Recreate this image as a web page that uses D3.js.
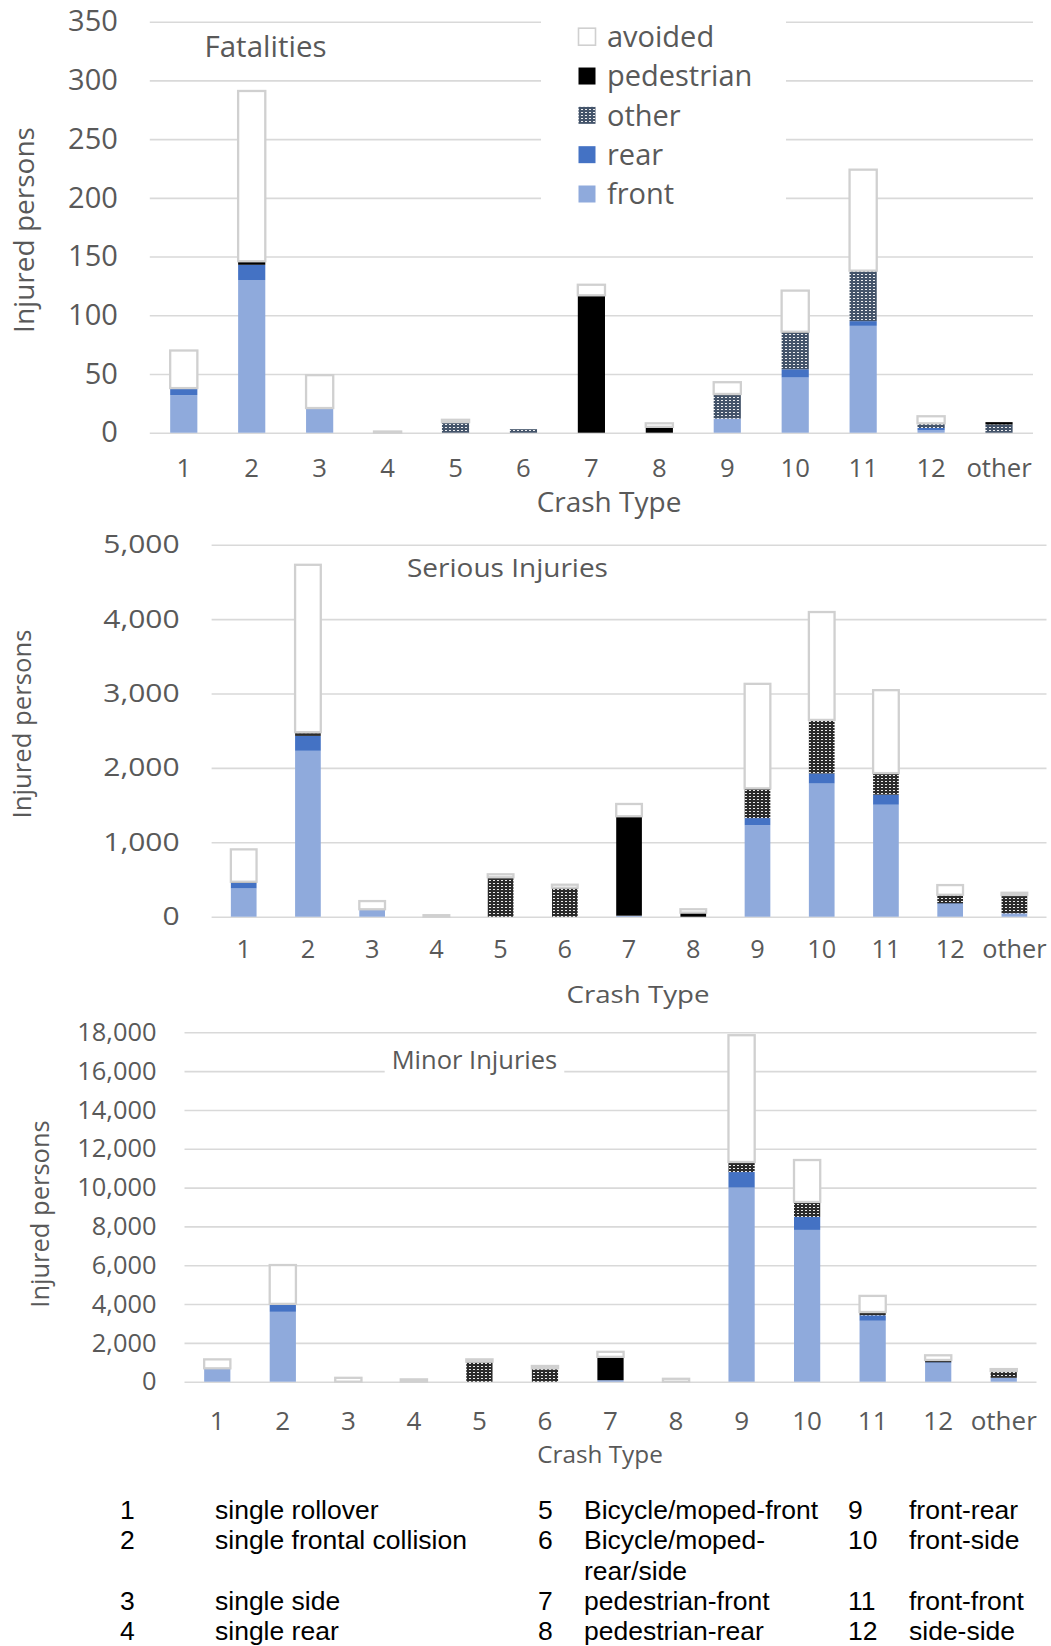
<!DOCTYPE html>
<html><head><meta charset="utf-8">
<script src="https://cdn.jsdelivr.net/npm/d3@7"></script>
<style>
body{margin:0;background:#fff;}
svg{display:block;}
</style></head><body>
<svg id="chart" width="1051" height="1646"></svg>
<script>
// ---------- DATA ----------
const categories = ["1","2","3","4","5","6","7","8","9","10","11","12","other"];
const seriesKeys = ["front","rear","other","pedestrian","avoided"];

const fatalFront      = [32,130,21,0,0,0,0,0,12,47,91,2,0];
const fatalRear       = [6,13,0,0,0,0,0,0,0,7,4,2,0];
const fatalOther      = [0,0,0,0,9,3,0,0,20,31,43,4,7];
const fatalPedestrian = [0,3,0,0,0,0,117,5,1,1,0,0,2];
const fatalAvoided    = [32,145,28,1,2,0,9,3,10,35,86,6,0];

const seriousFront      = [380,2230,100,0,0,0,10,0,1230,1790,1505,170,45];
const seriousRear       = [75,200,0,0,0,0,0,0,95,135,135,10,0];
const seriousOther      = [15,30,0,0,530,390,10,0,400,720,290,115,235];
const seriousPedestrian = [0,20,0,0,0,0,1330,55,0,0,0,0,12];
const seriousAvoided    = [435,2250,110,20,40,40,165,45,1405,1450,1115,130,30];

const minorFront      = [630,3600,0,0,0,0,80,0,10000,7820,3140,950,200];
const minorRear       = [60,380,0,0,0,0,0,0,800,670,280,50,0];
const minorOther      = [0,30,0,0,1030,690,0,0,520,770,170,120,350];
const minorPedestrian = [0,0,0,0,0,0,1200,0,0,0,0,0,0];
const minorAvoided    = [460,2000,200,120,120,120,260,150,6530,2160,830,240,100];

const fatalTicks   = [0,50,100,150,200,250,300,350];
const seriousTicks = [0,1000,2000,3000,4000,5000];
const minorTicks   = [0,2000,4000,6000,8000,10000,12000,14000,16000,18000];

const legendLabels = ["avoided","pedestrian","other","rear","front"];
const crashTypeNumbers = ["1","2","3","4","5","6","7","8","9","10","11","12"];
const crashTypeNames = ["single rollover","single frontal collision","single side","single rear",
  "Bicycle/moped-front","Bicycle/moped-|rear/side","pedestrian-front","pedestrian-rear",
  "front-rear","front-side","front-front","side-side"];

// ---------- STYLE ----------
const FONT = "'Open Sans','Segoe UI',sans-serif";
const TXT = "#595959";
const GRID = "#d9d9d9";
const colors = {front:"#8faadc", rear:"#4472c4", pedestrian:"#000000", avoided:"#ffffff"};

const svg = d3.select("#chart");
const defs = svg.append("defs");
function makePattern(id, base){
  const p = defs.append("pattern").attr("id",id).attr("patternUnits","userSpaceOnUse")
    .attr("width",4).attr("height",3);
  p.append("rect").attr("width",4).attr("height",3).attr("fill",base);
  p.append("rect").attr("x",1).attr("y",1).attr("width",2).attr("height",1).attr("fill","#ffffff").attr("opacity",0.9);
}
makePattern("patNavy","#44546a");
makePattern("patDark","#2b2b2b");

function rowsOf(f,r,o,p,a){
  return categories.map((c,i)=>({cat:c,front:f[i],rear:r[i],other:o[i],pedestrian:p[i],avoided:a[i]}));
}

function drawPanel(cfg){
  const g = svg.append("g");
  const x = d3.scaleBand().domain(categories).range([cfg.left,cfg.right]).paddingInner(0.6).paddingOuter(0.3);
  const y = d3.scaleLinear().domain([0,cfg.max]).range([cfg.bottom,cfg.top]);

  // y axis + gridlines
  const ga = g.append("g").attr("transform",`translate(${cfg.left},0)`)
    .call(d3.axisLeft(y).tickValues(cfg.ticks).tickSize(-(cfg.right-cfg.left)).tickPadding(cfg.tickPad)
      .tickFormat(d3.format(",")));
  ga.select(".domain").remove();
  ga.selectAll(".tick line").attr("stroke",GRID).attr("stroke-width",1.6);
  ga.selectAll(".tick text").attr("fill",TXT).attr("font-size",cfg.yFont).attr("font-family",FONT)
    .attr("x",-cfg.tickPad/cfg.ySX).attr("transform",`scale(${cfg.ySX},1)`);

  // title (with optional white background)
  const tg = g.append("g");
  const tt = tg.append("text").attr("x",cfg.titleX/cfg.titleSX).attr("y",cfg.titleY)
    .attr("transform",`scale(${cfg.titleSX},1)`)
    .attr("font-family",FONT).attr("font-size",cfg.titleFont).attr("fill",TXT).text(cfg.title);
  if(cfg.titleBg){
    const bb = tt.node().getBBox();
    tg.insert("rect","text").attr("x",bb.x*cfg.titleSX-7).attr("y",bb.y-4)
      .attr("width",bb.width*cfg.titleSX+14).attr("height",bb.height+8).attr("fill","#fff");
  }

  // x axis
  const gx = g.append("g").attr("transform",`translate(0,${cfg.bottom})`)
    .call(d3.axisBottom(x).tickSize(0));
  gx.select(".domain").remove();
  gx.selectAll(".tick text").attr("fill",TXT).attr("font-size",cfg.xFont).attr("font-family",FONT)
    .attr("y",cfg.xLabelOff).attr("dy",0);

  // bars
  const stack = d3.stack().keys(seriesKeys)(cfg.rows);
  stack.forEach(layer=>{
    const key = layer.key;
    g.append("g").selectAll("rect").data(layer.filter(d=>d[1]-d[0]>0)).join("rect")
      .attr("x",d=>x(d.data.cat)).attr("width",x.bandwidth())
      .attr("y",d=>y(d[1])).attr("height",d=>y(d[0])-y(d[1]))
      .attr("fill",key==="other"?`url(#${cfg.pattern})`:colors[key])
      .attr("stroke",key==="avoided"?"#d0d0d0":"none")
      .attr("stroke-width",key==="avoided"?2.3:0);
  });

  // axis titles
  g.append("text").attr("x",cfg.xTitleX/cfg.xTitleSX).attr("y",cfg.xTitleY)
    .attr("transform",`scale(${cfg.xTitleSX},1)`).attr("text-anchor","middle")
    .attr("font-family",FONT).attr("font-size",cfg.xTitleFont).attr("fill",TXT).text("Crash Type");
  g.append("text").attr("transform",`translate(${cfg.yTitleX},${cfg.yTitleY}) rotate(-90)`)
    .attr("text-anchor","middle").attr("dy","0.35em")
    .attr("font-family",FONT).attr("font-size",cfg.yTitleFont).attr("fill",TXT).text("Injured persons");
  return {g,x,y};
}

// ---------- PANEL 1: Fatalities ----------
drawPanel({
  rows: rowsOf(fatalFront,fatalRear,fatalOther,fatalPedestrian,fatalAvoided),
  left:149.8,right:1033,bottom:432.7,top:21.7,max:350,ticks:fatalTicks,
  tickPad:32,yFont:29,ySX:1,xFont:25.7,xLabelOff:44.6,
  title:"Fatalities",titleX:204.5,titleY:57,titleFont:29.5,titleSX:1,titleBg:false,
  xTitleX:609,xTitleY:512,xTitleFont:28,xTitleSX:1,
  yTitleX:24,yTitleY:230,yTitleFont:28,pattern:"patNavy"
});

// legend (fatalities panel)
const lg = svg.append("g");
lg.append("rect").attr("x",541).attr("y",12).attr("width",245).attr("height",202).attr("fill","#fff");
const legY = d3.scalePoint().domain(legendLabels).range([36.7,194]);
legendLabels.forEach(k=>{
  const cy = legY(k);
  lg.append("rect").attr("x",578.5).attr("y",cy-8.5).attr("width",17).attr("height",17)
    .attr("fill",k==="other"?"url(#patNavy)":colors[k])
    .attr("stroke",k==="avoided"?"#d0d0d0":"none").attr("stroke-width",k==="avoided"?1.6:0);
  lg.append("text").attr("x",607).attr("y",cy).attr("dy","0.35em")
    .attr("font-family",FONT).attr("font-size",29).attr("fill",TXT).text(k);
});

// ---------- PANEL 2: Serious Injuries ----------
drawPanel({
  rows: rowsOf(seriousFront,seriousRear,seriousOther,seriousPedestrian,seriousAvoided),
  left:211.6,right:1046.5,bottom:916.7,top:544.7,max:5000,ticks:seriousTicks,
  tickPad:32,yFont:25,ySX:1.2,xFont:25.3,xLabelOff:41.6,
  title:"Serious Injuries",titleX:407,titleY:577,titleFont:25,titleSX:1.12,titleBg:false,
  xTitleX:638,xTitleY:1003,xTitleFont:24.5,xTitleSX:1.13,
  yTitleX:22,yTitleY:724,yTitleFont:25.7,pattern:"patDark"
});

// ---------- PANEL 3: Minor Injuries ----------
drawPanel({
  rows: rowsOf(minorFront,minorRear,minorOther,minorPedestrian,minorAvoided),
  left:184.5,right:1036.5,bottom:1381.7,top:1032.3,max:18000,ticks:minorTicks,
  tickPad:28,yFont:25.4,ySX:1,xFont:26,xLabelOff:48.3,
  title:"Minor Injuries",titleX:391.7,titleY:1069,titleFont:25.5,titleSX:1,titleBg:true,
  xTitleX:600,xTitleY:1463,xTitleFont:24.3,xTitleSX:1,
  yTitleX:40,yTitleY:1214,yTitleFont:25.5,pattern:"patDark"
});

// ---------- Crash type key table ----------
const tbl = svg.append("g").attr("font-family","'Liberation Sans',Arial,sans-serif").attr("font-size",26.5).attr("fill","#000");
const colNumX = [120,538,848];
const colTxtX = [215,584,909];
const rowBase = [1519,1549,1610,1640];
const wrapBase = 1580;
crashTypeNumbers.forEach((n,i)=>{
  const col = Math.floor(i/4), row = i%4;
  tbl.append("text").attr("x",colNumX[col]).attr("y",rowBase[row]).text(n);
  const parts = crashTypeNames[i].split("|");
  tbl.append("text").attr("x",colTxtX[col]).attr("y",rowBase[row]).text(parts[0]);
  if(parts[1]) tbl.append("text").attr("x",colTxtX[col]).attr("y",wrapBase).text(parts[1]);
});
</script>
</body></html>
